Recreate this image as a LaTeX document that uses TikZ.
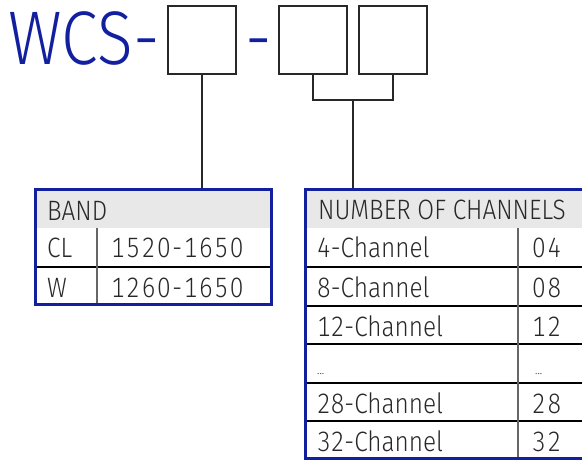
\documentclass[tikz,border=0pt]{standalone}
\usepackage{fontspec}
\IfFontExistsTF{Fira Sans Light}{\setmainfont{Fira Sans Light}[FakeStretch=0.87,Numbers=Monospaced]}{\setmainfont{Fira Sans}[FakeStretch=0.87,Numbers=Monospaced]}
\definecolor{wblue}{RGB}{18,32,160}
\definecolor{hgray}{RGB}{232,232,232}
\definecolor{txt}{RGB}{40,40,40}
\definecolor{lin}{RGB}{40,40,40}
\begin{document}
\begin{tikzpicture}[x=1pt,y=-1pt,
  box/.style={draw=lin, line width=1.3pt, minimum width=68pt, minimum height=68pt, inner sep=0pt},
  frame/.style={draw=wblue, line width=3pt, inner sep=0pt},
  cell/.style={anchor=base west, inner sep=0pt, font=\fontsize{28}{28}\selectfont, text=txt},
  num/.style={cell, font=\fontsize{28}{28}\selectfont\addfontfeatures{LetterSpace=6}},
  big/.style={anchor=base west, inner sep=0pt, font=\fontsize{76}{76}\selectfont, text=wblue},
  dots/.style={anchor=base west, inner sep=0pt, font=\fontsize{13}{13}\selectfont, text=txt},
  link/.style={draw=lin, line width=1.2pt},
  rule/.style={draw=black, line width=1.3pt},
  colrule/.style={draw=black!60, line width=1.6pt}]
\useasboundingbox (0,0) rectangle (582,460);
% code boxes
\node[big] (wcs) at (8,65) {WCS-};
\node[box] (b1) at (202,40) {};
\node[big] (dash) at (245.5,65) {-};
\node[box] (b2) at (313,40) {};
\node[box] (b3) at (393,40) {};
% band table
\fill[hgray] (36.5,190.5) rectangle (269.5,228);
\draw[rule] (35,267) -- (271,267);
\draw[colrule] (97,228) -- (97,304);
\node[frame, minimum width=236pt, minimum height=115pt] (band) at (153,246.5) {};
\node[cell] (bandh) at (47,220) {BAND};
\node[cell] (cl) at (47,258) {CL};
\node[num] (clv) at (111,258) {1520-1650};
\node[cell] (w) at (47,297) {W};
\node[num] (wv) at (111,297) {1260-1650};
% channels table
\fill[hgray] (306.5,190.5) rectangle (600,228);
\foreach \yy in {267,306,344,383,421} \draw[rule] (305,\yy) -- (600,\yy);
\draw[colrule] (518,228) -- (518,458);
\node[frame, minimum width=295pt, minimum height=269pt] (chan) at (452.5,323.5) {};
\node[cell] (chh) at (318,219) {NUMBER OF CHANNELS};
\node[cell] (r1) at (317,258) {4-Channel};
\node[num] (v1) at (532,258) {04};
\node[cell] (r2) at (317,297) {8-Channel};
\node[num] (v2) at (532,297) {08};
\node[cell] (r3) at (317,336) {12-Channel};
\node[num] (v3) at (532,336) {12};
\node[dots] (r4) at (317,374) {...};
\node[dots] (v4) at (535,374) {...};
\node[cell] (r5) at (317,413) {28-Channel};
\node[num] (v5) at (532,413) {28};
\node[cell] (r6) at (317,451) {32-Channel};
\node[num] (v6) at (532,451) {32};
% connectors
\coordinate (j) at (353,100);
\draw[link] (b1.south) -- (b1.south |- band.north);
\draw[link] (b2.south) |- (j) -| (b3.south);
\draw[link] (j) -- (j |- chan.north);
\end{tikzpicture}
\end{document}
